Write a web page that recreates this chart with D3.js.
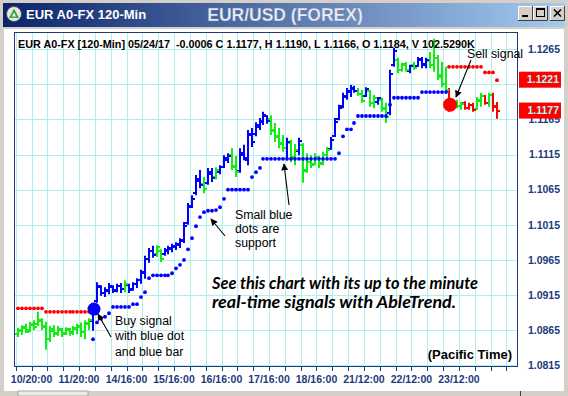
<!DOCTYPE html>
<html><head><meta charset="utf-8">
<script src="https://cdn.jsdelivr.net/npm/d3@7"></script>
<style>html,body{margin:0;padding:0;background:#fff;overflow:hidden}</style>
</head><body>
<svg id="c" width="568" height="396"></svg>
<script>
// ---------------- DATA ----------------
const windowTitle = "EUR A0-FX 120-Min";
const chartTitle = "EUR/USD (FOREX)";
const headerText = "EUR A0-FX [120-Min] 05/24/17  -0.0006 C 1.1177, H 1.1190, L 1.1166, O 1.1184, V 102.5290K";
const yTicks = [1.0815, 1.0865, 1.0915, 1.0965, 1.1015, 1.1065, 1.1115, 1.1165, 1.1215, 1.1265];
const priceBoxes = [1.1221, 1.1177];
const xLabels = ["10/20:00","11/20:00","14/16:00","15/16:00","16/16:00","17/16:00","18/16:00","21/12:00","22/12:00","23/12:00"];
const xLabelBars = [4, 16, 28, 40, 52, 64, 76, 88, 100, 112];

const high = [
1.0868,1.0872,1.0874,1.0877,1.0879,1.0891,1.0882,1.0877,1.0871,1.0872,
1.0871,1.0868,1.0869,1.0868,1.0871,1.0874,1.0876,1.0879,1.0882,1.0904,
1.0933,1.0929,1.0926,1.0932,1.0929,1.0931,1.0932,1.0936,1.0931,1.0933,
1.0939,1.0951,1.0971,1.0982,1.0985,1.0986,1.0980,1.0982,1.0985,1.0988,
1.0990,1.0996,1.1019,1.1046,1.1057,1.1086,1.1093,1.1083,1.1096,1.1096,
1.1097,1.1100,1.1114,1.1117,1.1124,1.1113,1.1124,1.1129,1.1150,1.1153,
1.1161,1.1167,1.1176,1.1171,1.1171,1.1160,1.1153,1.1143,1.1139,1.1136,
1.1130,1.1139,1.1131,1.1117,1.1114,1.1117,1.1113,1.1119,1.1126,1.1140,
1.1167,1.1186,1.1203,1.1210,1.1214,1.1213,1.1210,1.1207,1.1211,1.1207,
1.1200,1.1197,1.1196,1.1189,1.1236,1.1267,1.1253,1.1246,1.1247,1.1243,
1.1247,1.1254,1.1254,1.1253,1.1261,1.1280,1.1257,1.1247,1.1240,1.1210,
1.1193,1.1193,1.1190,1.1191,1.1189,1.1189,1.1197,1.1203,1.1200,1.1203,
1.1203,1.1190];
const low = [
1.0855,1.0858,1.0861,1.0862,1.0865,1.0871,1.0865,1.0837,1.0848,1.0855,
1.0857,1.0855,1.0858,1.0857,1.0858,1.0859,1.0855,1.0852,1.0865,1.0864,
1.0904,1.0914,1.0912,1.0916,1.0918,1.0919,1.0918,1.0919,1.0918,1.0921,
1.0925,1.0931,1.0938,1.0961,1.0968,1.0969,1.0962,1.0971,1.0973,1.0976,
1.0979,1.0982,1.0989,1.1015,1.1039,1.1057,1.1067,1.1060,1.1072,1.1076,
1.1080,1.1087,1.1096,1.1103,1.1093,1.1083,1.1089,1.1107,1.1100,1.1126,
1.1141,1.1150,1.1157,1.1159,1.1143,1.1133,1.1124,1.1119,1.1107,1.1104,
1.1100,1.1114,1.1075,1.1089,1.1096,1.1100,1.1096,1.1100,1.1110,1.1122,
1.1140,1.1164,1.1181,1.1193,1.1197,1.1203,1.1199,1.1189,1.1197,1.1183,
1.1181,1.1186,1.1176,1.1160,1.1171,1.1240,1.1231,1.1233,1.1233,1.1231,
1.1236,1.1240,1.1238,1.1238,1.1238,1.1233,1.1221,1.1211,1.1203,1.1176,
1.1179,1.1181,1.1179,1.1179,1.1179,1.1176,1.1179,1.1183,1.1186,1.1183,
1.1176,1.1166];
const open = [
1.0860,1.0864,1.0868,1.0865,1.0872,1.0873,1.0878,1.0871,1.0853,1.0864,
1.0861,1.0865,1.0861,1.0865,1.0862,1.0867,1.0870,1.0863,1.0874,1.0878,
1.0906,1.0926,1.0918,1.0921,1.0927,1.0922,1.0928,1.0924,1.0929,1.0923,
1.0930,1.0936,1.0946,1.0966,1.0977,1.0973,1.0978,1.0973,1.0977,1.0980,
1.0983,1.0986,1.0992,1.1017,1.1042,1.1060,1.1078,1.1073,1.1075,1.1088,
1.1083,1.1090,1.1098,1.1108,1.1115,1.1098,1.1092,1.1115,1.1108,1.1143,
1.1145,1.1155,1.1161,1.1170,1.1166,1.1150,1.1142,1.1131,1.1125,1.1132,
1.1112,1.1120,1.1128,1.1093,1.1104,1.1102,1.1110,1.1103,1.1114,1.1123,
1.1141,1.1166,1.1184,1.1197,1.1204,1.1209,1.1206,1.1202,1.1199,1.1205,
1.1189,1.1190,1.1193,1.1182,1.1174,1.1243,1.1250,1.1236,1.1244,1.1234,
1.1242,1.1241,1.1250,1.1243,1.1249,1.1243,1.1252,1.1228,1.1216,1.1206,
1.1183,1.1189,1.1184,1.1188,1.1182,1.1185,1.1180,1.1192,1.1198,1.1188,
1.1200,1.1184];
const close = [
1.0865,1.0869,1.0863,1.0874,1.0869,1.0880,1.0870,1.0852,1.0866,1.0860,
1.0866,1.0860,1.0866,1.0861,1.0868,1.0871,1.0862,1.0875,1.0879,1.0898,
1.0928,1.0918,1.0922,1.0928,1.0921,1.0928,1.0923,1.0930,1.0922,1.0931,
1.0936,1.0948,1.0966,1.0978,1.0972,1.0983,1.0966,1.0979,1.0982,1.0985,
1.0987,1.0993,1.1013,1.1040,1.1052,1.1080,1.1072,1.1066,1.1090,1.1081,
1.1093,1.1097,1.1110,1.1113,1.1099,1.1090,1.1117,1.1110,1.1145,1.1133,
1.1157,1.1163,1.1172,1.1163,1.1148,1.1140,1.1130,1.1124,1.1133,1.1110,
1.1122,1.1134,1.1092,1.1105,1.1100,1.1111,1.1101,1.1114,1.1122,1.1136,
1.1162,1.1181,1.1198,1.1206,1.1210,1.1206,1.1202,1.1192,1.1208,1.1188,
1.1195,1.1195,1.1180,1.1168,1.1230,1.1262,1.1236,1.1243,1.1236,1.1241,
1.1239,1.1251,1.1244,1.1250,1.1242,1.1270,1.1226,1.1216,1.1207,1.1183,
1.1188,1.1184,1.1187,1.1181,1.1185,1.1179,1.1193,1.1199,1.1189,1.1200,
1.1183,1.1177];
// trend state per bar: g = neutral (green), b = up (blue), r = down (red)
const trend = ("ggggggggggggggggggg" + "bbbbbbbb" + "g" + "bbbbbbb" + "gg" + "bbbbbbbbbb" +
  "g" + "bb" + "g" + "bbb" + "gg" + "bbbbbbbb" + "gggg" + "b" + "gg" + "b" + "ggggggg" +
  "bbbbbbb" + "gg" + "b" + "gg" + "b" + "gg" + "bb" + "ggg" + "b" + "g" + "bbb" + "ggggg" +
  "r" + "ggg" + "rrr" + "gg" + "r" + "g" + "rr").split("");

// support (small blue dots), aligned with bars
const support = [
null,null,null,null,null,null,null,null,null,null,
null,null,null,null,null,null,null,null,null,1.0852,
1.0876,1.0881,1.0884,1.0889,1.0898,1.0898,1.0898,1.0898,1.0898,1.0902,
1.0902,1.0912,1.0919,1.0939,1.0943,1.0943,1.0943,1.0943,1.0943,1.0946,
1.0953,1.0958,1.0965,1.0980,1.0996,1.1013,1.1026,1.1033,1.1035,1.1035,
1.1036,1.1040,1.1052,1.1065,1.1065,1.1065,1.1065,1.1065,1.1065,1.1083,
1.1090,1.1096,1.1109,1.1109,1.1109,1.1109,1.1109,1.1109,1.1109,1.1109,
1.1109,1.1109,1.1109,1.1109,1.1109,1.1109,1.1109,1.1109,1.1109,1.1109,
1.1109,1.1117,1.1141,1.1151,1.1151,1.1160,1.1170,1.1170,1.1170,1.1170,
1.1170,1.1170,1.1170,1.1170,1.1186,1.1196,1.1196,1.1196,1.1196,1.1196,
1.1196,1.1196,1.1204,1.1204,1.1204,1.1204,1.1204,1.1204,1.1204,null,
null,null,null,null,null,null,null,null,null,null,
null,null];
// resistance (small red dots): [bar, price]
const resistance = [
[0,1.0896],[1,1.0896],[2,1.0896],[3,1.0896],[4,1.0896],[5,1.0896],[6,1.0896],
[7,1.0891],[8,1.0891],[9,1.0891],[10,1.0891],[11,1.0891],[12,1.0891],[13,1.0891],
[14,1.0891],[15,1.0891],[16,1.0891],[17,1.0891],[18,1.0891],
[109,1.1240],[110,1.1240],[111,1.1240],[112,1.1240],[113,1.1240],[114,1.1240],
[115,1.1240],[116,1.1240],[117,1.1240],[118,1.1232],[119,1.1232],[120,1.1232],[121,1.1221]];
const buySignal = {bar: 19, price: 1.0895};
const sellSignal = {bar: 109, price: 1.1186};

// ---------------- DRAW ----------------
const svg = d3.select("#c");
const FONT = "'Liberation Sans', Arial, sans-serif";
const NAVY = "#1c3a7c";
const colors = {g: "#12ee12", b: "#0000ff", r: "#ff0000"};

const defs = svg.append("defs");
const tb = defs.append("linearGradient").attr("id","tb").attr("x1","0").attr("x2","1").attr("y1","0").attr("y2","0");
tb.append("stop").attr("offset","0%").attr("stop-color","#0a246a");
tb.append("stop").attr("offset","100%").attr("stop-color","#a6caf0");
defs.append("marker").attr("id","ah").attr("viewBox","0 0 10 10").attr("refX",9).attr("refY",5)
  .attr("markerWidth",7).attr("markerHeight",7).attr("markerUnits","userSpaceOnUse").attr("orient","auto")
  .append("path").attr("d","M0,0 L10,5 L0,10 Z").attr("fill","#000");
defs.append("clipPath").attr("id","pc").append("rect").attr("x",14).attr("y",32).attr("width",503).attr("height",334);

// window chrome
svg.append("rect").attr("width",568).attr("height",396).attr("fill","#d4d0c8");
svg.append("rect").attr("x",3).attr("y",3).attr("width",562).attr("height",24).attr("fill","url(#tb)");
svg.append("rect").attr("x",4).attr("y",29).attr("width",560).attr("height",362).attr("fill","#fff");
svg.append("rect").attr("x",4).attr("y",391).attr("width",560).attr("height",5).attr("fill","#d4d0c8");
svg.append("rect").attr("x",18).attr("y",391).attr("width",70).attr("height",5).attr("fill","#ecebe6").attr("stroke","#9a978f").attr("stroke-width",0.8);
svg.append("line").attr("x1",520.5).attr("x2",520.5).attr("y1",391).attr("y2",396).attr("stroke","#404040");

// icon + titles
svg.append("circle").attr("cx",14).attr("cy",14).attr("r",7.5).attr("fill","#e8e8e8").attr("stroke","#555").attr("stroke-width",1);
svg.append("path").attr("d","M14,8.5 L19,18 L9,18 Z").attr("fill","#2faa3a");
svg.append("path").attr("d","M14,12.5 L16,16.5 L12,16.5 Z").attr("fill","#fff");
svg.append("text").attr("x",26).attr("y",19).attr("font-family",FONT).attr("font-weight","bold")
  .attr("font-size",13).attr("fill","#fff").text(windowTitle);
svg.append("text").attr("x",285).attr("y",21).attr("text-anchor","middle").attr("font-family",FONT)
  .attr("font-weight","bold").attr("font-size",17.5).attr("fill","#eceef4")
  .attr("stroke","#6a7fa8").attr("stroke-width",0.3).text(chartTitle);

// window buttons
function btn(x0, kind) {
  const g = svg.append("g");
  g.append("rect").attr("x",x0).attr("y",6).attr("width",15).attr("height",15).attr("fill","#d4d0c8");
  g.append("path").attr("d",`M${x0+0.5},${21} V${6.5} H${x0+15}`).attr("stroke","#fff").attr("fill","none");
  g.append("path").attr("d",`M${x0},${20.5} H${x0+14.5} V${6}`).attr("stroke","#404040").attr("fill","none");
  if (kind==="min") g.append("rect").attr("x",x0+4).attr("y",15).attr("width",6).attr("height",2).attr("fill","#000");
  if (kind==="max") { g.append("rect").attr("x",x0+3.5).attr("y",8.5).attr("width",8).attr("height",8).attr("fill","none").attr("stroke","#000");
    g.append("rect").attr("x",x0+3.5).attr("y",8.5).attr("width",8).attr("height",1.5).attr("fill","#000"); }
  if (kind==="close") g.append("path").attr("d",`M${x0+4},${9.5} L${x0+11},${16.5} M${x0+11},${9.5} L${x0+4},${16.5}`).attr("stroke","#000").attr("stroke-width",1.6);
}
btn(518,"min"); btn(533,"max"); btn(550,"close");

// scales
const x = d3.scaleLinear().domain([0,128]).range([15.7,522.3]);
const y = d3.scaleLinear().domain([1.0815,1.1265]).range([365.2,49.3]);
const barX = i => Math.round(x(i + 0.6));

// grid
const plot = svg.append("g").attr("clip-path","url(#pc)");
const gridBars = d3.range(0, 128, 4);
plot.selectAll("line.vg").data(gridBars).join("line").attr("class","vg")
  .attr("x1",d=>Math.round(x(d))+0.5).attr("x2",d=>Math.round(x(d))+0.5).attr("y1",32).attr("y2",366)
  .attr("stroke","#b3eeee").attr("stroke-width",1);
plot.selectAll("line.hg").data(yTicks).join("line").attr("class","hg")
  .attr("x1",14).attr("x2",517).attr("y1",d=>Math.round(y(d))+0.5).attr("y2",d=>Math.round(y(d))+0.5)
  .attr("stroke","#b3eeee").attr("stroke-width",1);

// header text
svg.append("text").attr("x",18).attr("y",48).attr("font-family",FONT).attr("font-weight","bold")
  .attr("font-size",10.8).attr("fill","#000").style("white-space","pre").text(headerText);

// bars
const bars = high.map((h,i)=>({i, h, l: low[i], o: open[i], c: close[i], t: trend[i]}));
const bg = plot.append("g");
bg.selectAll("line.hl").data(bars).join("line").attr("class","hl")
  .attr("x1",d=>barX(d.i)).attr("x2",d=>barX(d.i))
  .attr("y1",d=>y(d.h)).attr("y2",d=>y(d.l))
  .attr("stroke",d=>colors[d.t]).attr("stroke-width",2);
bg.selectAll("line.op").data(bars).join("line").attr("class","op")
  .attr("x1",d=>barX(d.i)-3).attr("x2",d=>barX(d.i))
  .attr("y1",d=>Math.round(y(d.o))).attr("y2",d=>Math.round(y(d.o)))
  .attr("stroke",d=>colors[d.t]).attr("stroke-width",2);
bg.selectAll("line.cl").data(bars).join("line").attr("class","cl")
  .attr("x1",d=>barX(d.i)).attr("x2",d=>barX(d.i)+3)
  .attr("y1",d=>Math.round(y(d.c))).attr("y2",d=>Math.round(y(d.c)))
  .attr("stroke",d=>colors[d.t]).attr("stroke-width",2);

// support / resistance dots
const sup = support.map((v,i)=>({i,v})).filter(d=>d.v!==null);
plot.selectAll("circle.sup").data(sup).join("circle").attr("class","sup")
  .attr("cx",d=>barX(d.i)).attr("cy",d=>y(d.v)).attr("r",1.9).attr("fill","#0000ff");
plot.selectAll("circle.res").data(resistance).join("circle").attr("class","res")
  .attr("cx",d=>barX(d[0])).attr("cy",d=>y(d[1])).attr("r",1.9).attr("fill","#ff0000");

// signals
plot.append("circle").attr("cx",barX(buySignal.bar)+1).attr("cy",y(buySignal.price)).attr("r",6.5).attr("fill","#0000ff");
plot.append("circle").attr("cx",barX(sellSignal.bar)+1).attr("cy",y(sellSignal.price)).attr("r",7).attr("fill","#ff0000");

// frame
svg.append("rect").attr("x",14.5).attr("y",32.5).attr("width",503).attr("height",334)
  .attr("fill","none").attr("stroke",NAVY).attr("stroke-width",1);

// x ticks + labels
svg.selectAll("line.xt").data(gridBars.filter(d=>x(d)>14 && x(d)<517)).join("line").attr("class","xt")
  .attr("x1",d=>Math.round(x(d))+0.5).attr("x2",d=>Math.round(x(d))+0.5).attr("y1",367).attr("y2",371)
  .attr("stroke",NAVY);
svg.selectAll("text.xl").data(xLabels).join("text").attr("class","xl")
  .attr("x",(d,k)=>x(xLabelBars[k])).attr("y",383).attr("text-anchor","middle")
  .attr("font-family",FONT).attr("font-weight","bold").attr("font-size",10.5).attr("fill",NAVY).text(d=>d);

// y labels (a tick label fully covered by a price box is not drawn)
const visibleTicks = yTicks.filter(t => priceBoxes.every(p => Math.abs(y(p) - y(t)) > 6));
svg.selectAll("text.yl").data(visibleTicks).join("text").attr("class","yl")
  .attr("x",560).attr("y",d=>y(d)).attr("dy","0.36em").attr("text-anchor","end")
  .attr("font-family",FONT).attr("font-weight","bold").attr("font-size",10.5).attr("fill",NAVY)
  .text(d=>d.toFixed(4));
const pb = svg.selectAll("g.pb").data(priceBoxes).join("g").attr("class","pb");
pb.append("rect").attr("x",519).attr("y",d=>y(d)-8.5).attr("width",42).attr("height",16).attr("fill","#ff0000");
pb.append("text").attr("x",559).attr("y",d=>y(d)-0.5).attr("dy","0.36em").attr("text-anchor","end")
  .attr("font-family",FONT).attr("font-weight","bold").attr("font-size",10.5).attr("fill","#a8ffff").text(d=>d.toFixed(4));

// annotations
const ann = svg.append("g").attr("font-family",FONT).attr("font-size",12.3).attr("fill","#000");
[["Buy signal",325],["with blue dot",340],["and blue bar",356]].forEach(([t,yy])=>ann.append("text").attr("x",115).attr("y",yy).text(t));
[["Small blue",219],["dots are",233],["support",247]].forEach(([t,yy])=>ann.append("text").attr("x",235).attr("y",yy).text(t));
ann.append("text").attr("x",467).attr("y",58).text("Sell signal");
function arrow(x1,y1,x2,y2){ svg.append("line").attr("x1",x1).attr("y1",y1).attr("x2",x2).attr("y2",y2)
  .attr("stroke","#000").attr("stroke-width",1.1).attr("marker-end","url(#ah)"); }
arrow(111,337,98,314);
arrow(225,236,211,219);
arrow(289,205,284,164);
arrow(471,60,456,97);

// promo text
const promo = svg.append("g").attr("font-family","Lato, 'Open Sans', sans-serif").attr("font-weight","bold")
  .attr("font-style","italic").attr("font-size",17.5).attr("fill","#000");
promo.append("text").attr("x",212).attr("y",289).attr("textLength",266).attr("lengthAdjust","spacingAndGlyphs")
  .text("See this chart with its up to the minute");
promo.append("text").attr("x",212).attr("y",308).attr("textLength",244).attr("lengthAdjust","spacingAndGlyphs")
  .text("real-time signals with AbleTrend.");
svg.append("text").attr("x",512).attr("y",359).attr("text-anchor","end").attr("font-family",FONT)
  .attr("font-weight","bold").attr("font-size",13).attr("fill","#000").text("(Pacific Time)");
</script>
</body></html>
